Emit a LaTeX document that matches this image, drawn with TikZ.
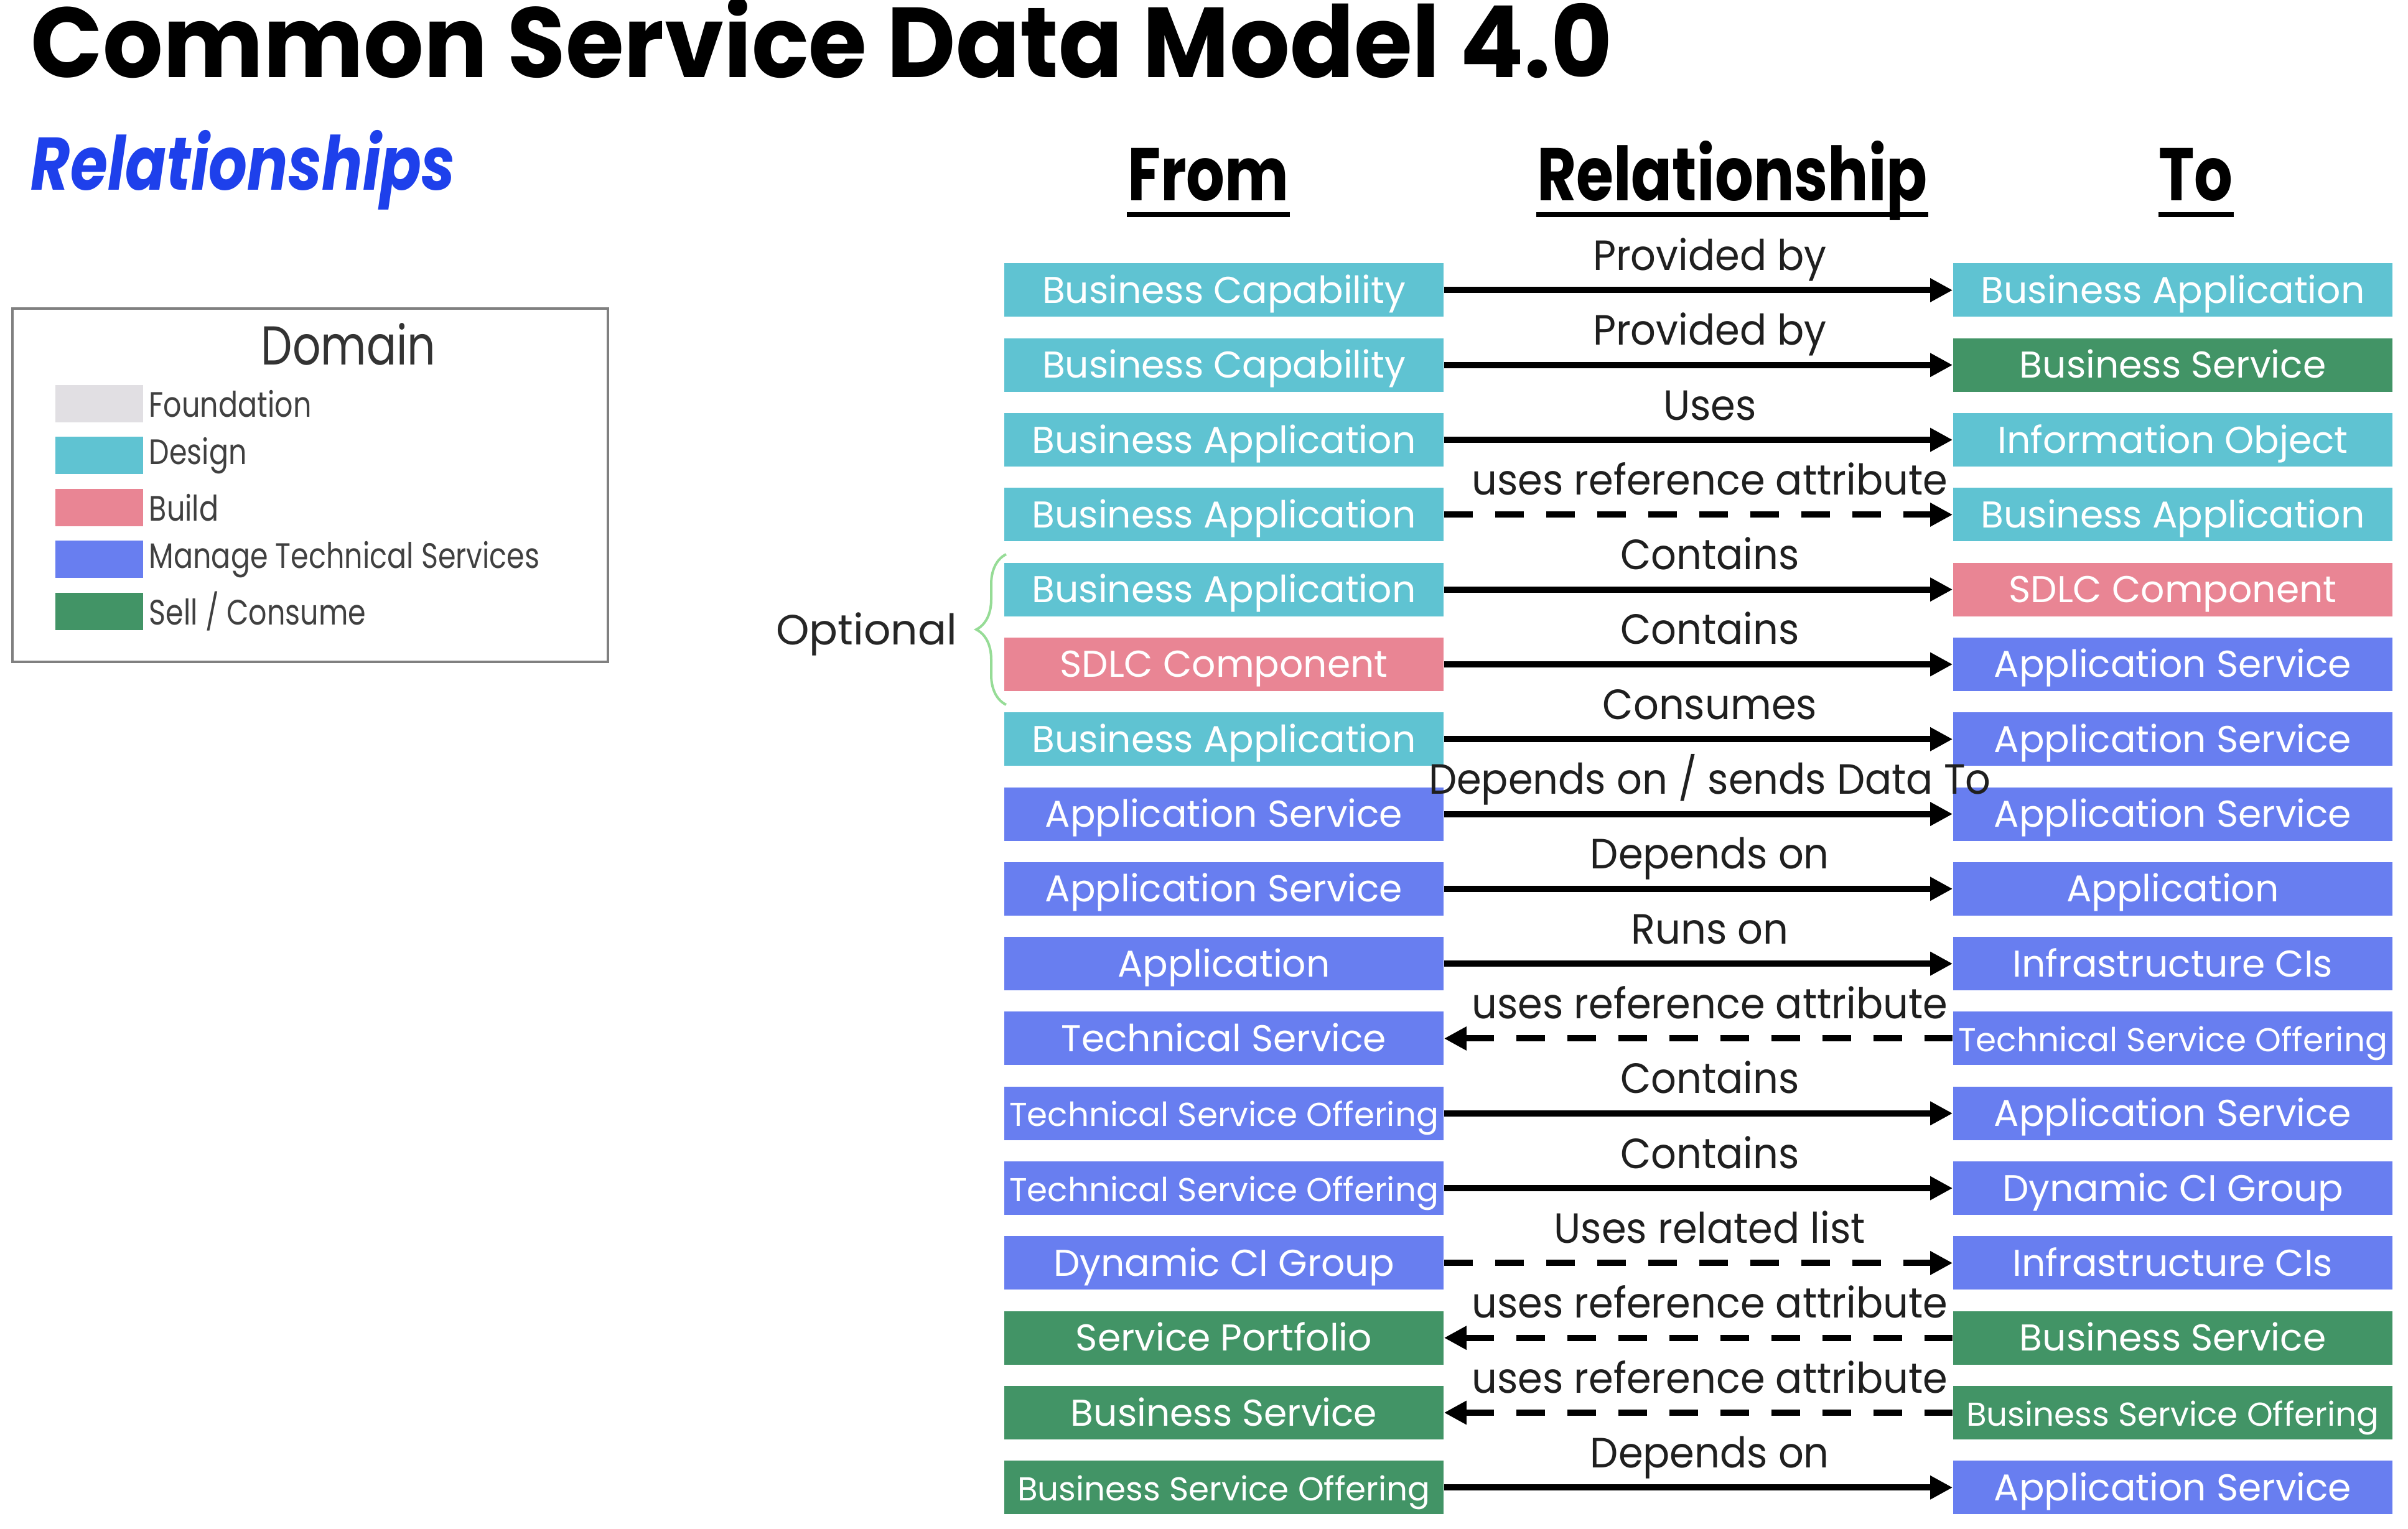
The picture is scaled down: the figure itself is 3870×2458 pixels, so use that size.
\documentclass[tikz,border=0pt]{standalone}
\usepackage{fontspec}
\setmainfont{Poppins}
\newfontfamily\tfont[FakeStretch=0.95]{Poppins}
\newfontfamily\cond[FakeStretch=0.81]{Poppins}
\newfontfamily\rfont[FakeStretch=0.94]{Poppins}
\usetikzlibrary{arrows.meta,decorations.pathreplacing}

\definecolor{design}{RGB}{95,195,210}
\definecolor{build}{RGB}{233,133,148}
\definecolor{manage}{RGB}{104,126,240}
\definecolor{sell}{RGB}{66,148,102}
\definecolor{found}{RGB}{225,223,227}
\definecolor{rship}{RGB}{30,64,235}
\definecolor{brc}{RGB}{150,220,150}

\newcommand\narrow{\fontsize{13.3}{16}\selectfont}

\tikzset{
  box/.style={minimum width=176.5pt, minimum height=21.5pt, inner sep=0pt,
    text height=10.5pt, text depth=0pt,
    text=white, font=\fontsize{15}{18}\selectfont},
  rel/.style={anchor=base, yshift=8pt, xshift=4.6pt, inner sep=0pt, text=black!88,
    font=\rfont\fontsize{17}{20}\selectfont},
  fwd/.style={line width=2.5pt, -{Triangle[length=9pt,width=9pt]}},
  fwddash/.style={fwd, dash pattern=on 11.5pt off 9pt},
  backdash/.style={line width=2.5pt, {Triangle[length=9pt,width=9pt]}-,
    dash pattern=on 11.5pt off 9pt},
  hdr/.style={anchor=base, inner sep=0pt, font=\cond\fontsize{30}{36}\selectfont\bfseries},
  uline/.style={line width=1.8pt}
}

\begin{document}
\begin{tikzpicture}[x=0.25pt,y=-0.25pt]
  \useasboundingbox (0,0) rectangle (3870,2458);

  \node[anchor=base west, inner sep=0pt, font=\tfont\fontsize{40}{48}\selectfont\bfseries] (title) at (49,125)
    {Common Service Data Model 4.0};
  \node[anchor=base west, inner sep=0pt, text=rship, font=\cond\fontsize{30}{36}\selectfont\bfseries\itshape]
    (sub) at (49,306) {Relationships};

  % legend
  \draw[gray, line width=1pt] (20,496) rectangle (977,1064);
  \node[anchor=base, text=black!80, font=\cond\fontsize{22}{26}\selectfont] (dom) at (560,587) {Domain};
  \foreach \c/\t [count=\k] in {found/Foundation, design/Design, build/Build,
      manage/Manage Technical Services, sell/Sell \slash\ Consume}
  {
    \pgfmathsetmacro\y{649+(\k-1)*83.5}
    \fill[\c] (89,\y-30) rectangle (230,\y+30);
    \node[anchor=west, inner sep=0pt, text=black!75, font=\cond\fontsize{14.2}{17}\selectfont]
      (lg\k) at (239,\y) {\t};
  }

  % headers
  \node[hdr] (hfrom) at (1942,323) {From};
  \node[hdr] (hrel) at (2784,323) {Relationship};
  \node[hdr] (hto) at (3529,323) {To};
  \foreach \h in {hfrom,hrel,hto}
    \draw[uline] ([yshift=-5.5pt]\h.base west) -- ([yshift=-5.5pt]\h.base east);

  % rows
  \foreach \i/\a/\ca/\b/\cb/\r/\s in {
    1/Business Capability/design/Business Application/design/Provided by/fwd,
    2/Business Capability/design/Business Service/sell/Provided by/fwd,
    3/Business Application/design/Information Object/design/Uses/fwd,
    4/Business Application/design/Business Application/design/uses reference attribute/fwddash,
    5/Business Application/design/SDLC Component/build/Contains/fwd,
    6/SDLC Component/build/Application Service/manage/Contains/fwd,
    7/Business Application/design/Application Service/manage/Consumes/fwd,
    8/Application Service/manage/Application Service/manage/Depends on \slash\ sends Data To/fwd,
    9/Application Service/manage/Application/manage/Depends on/fwd,
    10/Application/manage/Infrastructure CIs/manage/Runs on/fwd,
    11/Technical Service/manage/\narrow Technical Service Offering/manage/uses reference attribute/backdash,
    12/\narrow Technical Service Offering/manage/Application Service/manage/Contains/fwd,
    13/\narrow Technical Service Offering/manage/Dynamic CI Group/manage/Contains/fwd,
    14/Dynamic CI Group/manage/Infrastructure CIs/manage/Uses related list/fwddash,
    15/Service Portfolio/sell/Business Service/sell/uses reference attribute/backdash,
    16/Business Service/sell/\narrow Business Service Offering/sell/uses reference attribute/backdash,
    17/\narrow Business Service Offering/sell/Application Service/manage/Depends on/fwd}
  {
    \pgfmathsetmacro\y{466.5+(\i-1)*120.3}
    \node[box, fill=\ca] (f\i) at (1967,\y) {\a};
    \node[box, fill=\cb] (t\i) at (3492,\y) {\b};
    \draw[\s] (f\i) -- node[rel] {\r} (t\i);
  }

  % optional group
  \node[anchor=base east, text=black!85, font=\fontsize{17}{20}\selectfont] (opt) at (1552,1037) {Optional};
  \draw[brc, line width=1pt, decorate, decoration={brace, amplitude=12pt}] (1617,1133) -- (1617,891);
\end{tikzpicture}
\end{document}
